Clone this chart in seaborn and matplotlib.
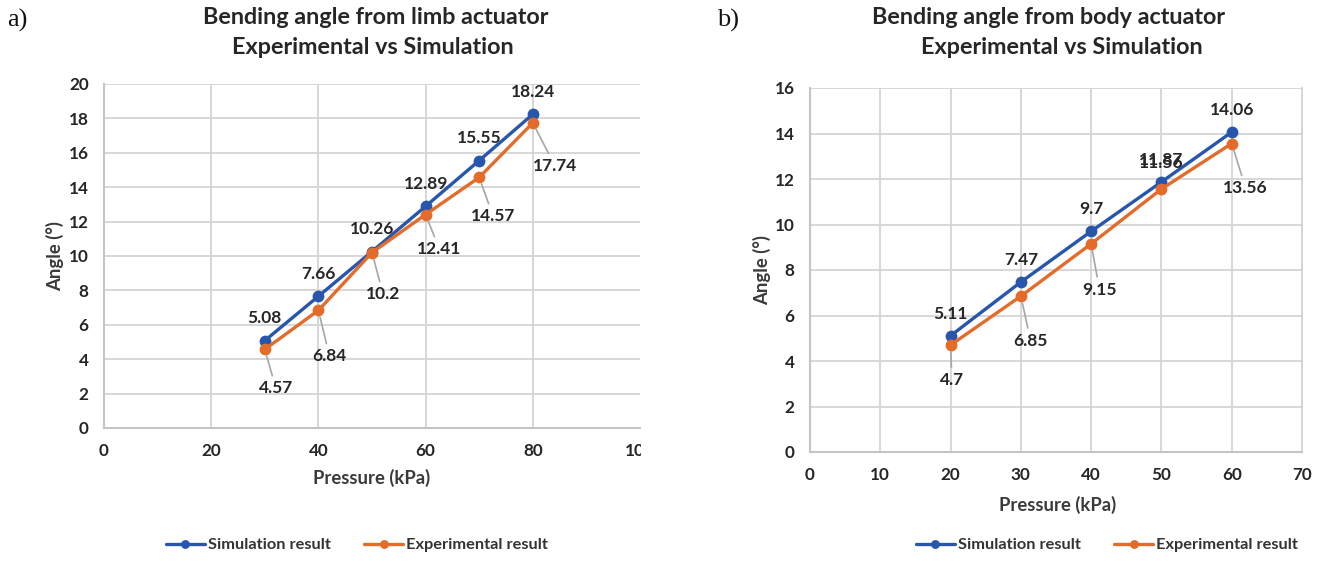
import matplotlib
matplotlib.use("Agg")
import matplotlib.pyplot as plt
import seaborn as sns
import pandas as pd
from matplotlib.patches import Rectangle

# ---------------- data ----------------
pressure_a = [30, 40, 50, 60, 70, 80]
sim_a = [5.08, 7.66, 10.26, 12.89, 15.55, 18.24]
exp_a = [4.57, 6.84, 10.2, 12.41, 14.57, 17.74]

pressure_b = [20, 30, 40, 50, 60]
sim_b = [5.11, 7.47, 9.7, 11.87, 14.06]
exp_b = [4.7, 6.85, 9.15, 11.56, 13.56]

series_names = ["Simulation result", "Experimental result"]
title_a = ["Bending angle from limb actuator", "Experimental vs Simulation"]
title_b = ["Bending angle from body actuator", "Experimental vs Simulation"]
xticks_a = [0, 20, 40, 60, 80, 100]
yticks_a = [0, 2, 4, 6, 8, 10, 12, 14, 16, 18, 20]
xticks_b = [0, 10, 20, 30, 40, 50, 60, 70]
yticks_b = [0, 2, 4, 6, 8, 10, 12, 14, 16]

# label offsets (points) for experimental labels
exp_off_a = [(8, -28), (8, -33), (8, -30), (10, -25), (10, -28), (16, -31)]
exp_off_b = [(1, -25), (7, -32), (6, -33), (0, 19), (10, -32)]

BLUE = "#2756AC"
ORANGE = "#E36C2B"
GRID = "#D4D4D4"
TXT = "#262626"
FONT = ["Lato", "DejaVu Sans"]

sns.set_theme(style="white")
plt.rcParams["font.family"] = FONT

W, H = 1337, 561
fig = plt.figure(figsize=(W / 100, H / 100), dpi=100)


def make_df(p, s, e):
    return pd.DataFrame({
        "Pressure": list(p) + list(p),
        "Angle": list(s) + list(e),
        "Series": [series_names[0]] * len(p) + [series_names[1]] * len(p),
    })


def panel(rect, p, s, e, xticks, yticks, xlim, offs, titles, tcx, letter, lx,
          xl_pos, yl_pos, leg_pos, hide_last_vgrid=False):
    ax = fig.add_axes([rect[0] / W, 1 - rect[3] / H, (rect[2] - rect[0]) / W, (rect[3] - rect[1]) / H])
    df = make_df(p, s, e)
    sns.lineplot(data=df, x="Pressure", y="Angle", hue="Series",
                 palette=[BLUE, ORANGE], marker="o", markersize=8.5,
                 markeredgewidth=0, linewidth=2.4, ax=ax, legend=True)
    ax.set_xlim(*xlim)
    ax.set_ylim(yticks[0], yticks[-1])
    ax.set_xticks(xticks)
    ax.set_yticks(yticks)
    ax.grid(True, color=GRID, linewidth=1.3)
    ax.set_axisbelow(True)
    for side in ["top", "right"]:
        ax.spines[side].set_visible(False)
    for side in ["left", "bottom"]:
        ax.spines[side].set_color("#C4C4C4")
        ax.spines[side].set_linewidth(1.5)
    if not hide_last_vgrid:
        ax.spines["right"].set_visible(True)
        ax.spines["right"].set_color(GRID)
        ax.spines["right"].set_linewidth(1.3)
    ax.tick_params(length=0, labelsize=12.3, colors=TXT, pad=11)
    for lbl in ax.get_xticklabels() + ax.get_yticklabels():
        lbl.set_fontweight("bold")
    ax.set_xlabel("Pressure (kPa)", fontsize=13.3, fontweight="bold", color="#3A3A3A")
    ax.set_ylabel("Angle (°)", fontsize=13.3, fontweight="bold", color="#3A3A3A")
    ax.xaxis.set_label_coords((xl_pos[0] - rect[0]) / (rect[2] - rect[0]),
                              (rect[3] - xl_pos[1]) / (rect[3] - rect[1]))
    ax.xaxis.label.set_va("center")
    ax.yaxis.set_label_coords((yl_pos[0] - rect[0]) / (rect[2] - rect[0]),
                              (rect[3] - yl_pos[1]) / (rect[3] - rect[1]))
    ax.yaxis.label.set_va("center")

    # data labels
    for x, y in zip(p, s):
        ax.annotate(f"{y:g}", (x, y), xytext=(0, 16), textcoords="offset points",
                    ha="center", va="center", fontsize=12.5, fontweight="bold", color=TXT)
    for (x, y), (dx, dy) in zip(zip(p, e), offs):
        ap = None
        if dy < 0:
            ap = dict(arrowstyle="-", color="#A6A6A6", lw=1.2, shrinkA=1, shrinkB=5)
        ax.annotate(f"{y:g}", (x, y), xytext=(dx, dy), textcoords="offset points",
                    ha="center", va="center", fontsize=12.5, fontweight="bold", color=TXT,
                    arrowprops=ap)

    # legend
    handles, labels = ax.get_legend_handles_labels()
    ax.legend(handles, labels, loc="center", bbox_to_anchor=(leg_pos[0] / W, 1 - leg_pos[1] / H),
              bbox_transform=fig.transFigure, ncol=2, frameon=False,
              prop={"size": 11.8, "weight": "bold"},
              handlelength=2.4, columnspacing=2.0, handletextpad=0.2, markerscale=0.75,
              labelcolor="#333333")

    # titles
    fig.text(tcx[0] / W, 1 - 18 / H, titles[0], ha="center", va="center",
             fontsize=16.8, fontweight="bold", color=TXT)
    fig.text(tcx[1] / W, 1 - 47 / H, titles[1], ha="center", va="center",
             fontsize=16.8, fontweight="bold", color=TXT)
    fig.text(lx / W, 1 - 20 / H, letter, ha="left", va="center", fontsize=19,
             family="Liberation Serif", color="#111111")
    return ax


ax1 = panel((104, 84, 640, 428), pressure_a, sim_a, exp_a, xticks_a, yticks_a, (0, 100),
            exp_off_a, title_a, (376, 373), "a)", 7, (372, 478), (55, 256), (357, 545),
            hide_last_vgrid=True)
# the 100 gridline is cut in the reference
ax1.get_xgridlines()[-1].set_visible(False)
clip = Rectangle((0, 0), 641 / W, 1, transform=fig.transFigure)
ax1.get_xticklabels()[-1].set_clip_path(clip)

ax2 = panel((810, 88, 1302, 452), pressure_b, sim_b, exp_b, xticks_b, yticks_b, (0, 70),
            exp_off_b, title_b, (1049, 1062), "b)", 717, (1058, 505), (762, 270), (1107, 545))

fig.savefig("out.png", dpi=100, facecolor="white")
